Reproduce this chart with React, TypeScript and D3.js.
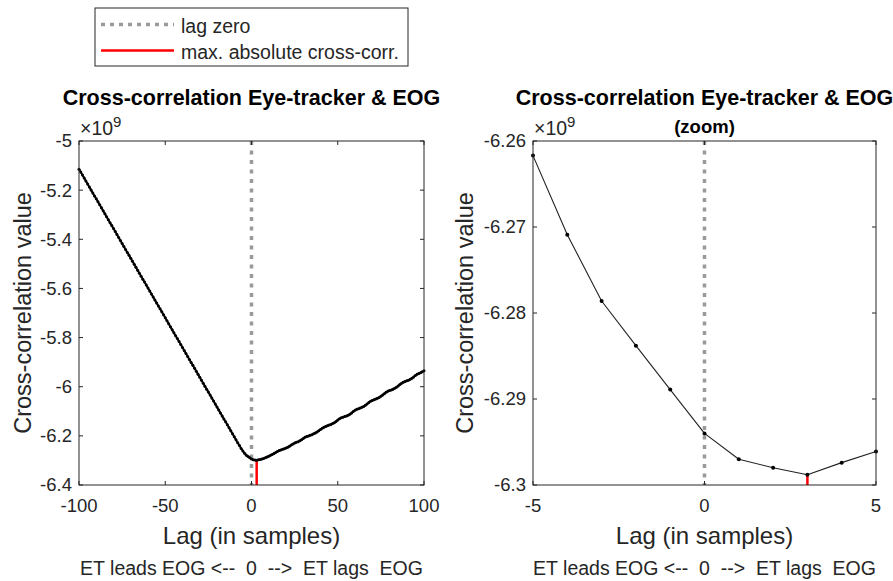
import React from "react";
import * as d3 from "d3";

// Cross-correlation between eye-tracker and EOG signals, in units of 10^9.
const LAGS: number[] = d3.range(-100, 101);
const XCORR: number[] = [
  // lag -100 .. -51
  -5.1145, -5.1266, -5.1387, -5.1508, -5.1629, -5.1750, -5.1871, -5.1992, -5.2113, -5.2234,
  -5.2355, -5.2476, -5.2597, -5.2718, -5.2839, -5.2960, -5.3081, -5.3202, -5.3323, -5.3444,
  -5.3565, -5.3686, -5.3807, -5.3928, -5.4049, -5.4170, -5.4291, -5.4412, -5.4533, -5.4654,
  -5.4775, -5.4896, -5.5017, -5.5138, -5.5259, -5.5380, -5.5501, -5.5622, -5.5743, -5.5864,
  -5.5985, -5.6106, -5.6227, -5.6348, -5.6469, -5.6590, -5.6711, -5.6832, -5.6953, -5.7074,
  // lag -50 .. -1
  -5.7195, -5.7316, -5.7437, -5.7558, -5.7679, -5.7800, -5.7921, -5.8042, -5.8163, -5.8284,
  -5.8405, -5.8526, -5.8647, -5.8768, -5.8889, -5.9010, -5.9131, -5.9252, -5.9373, -5.9494,
  -5.9615, -5.9736, -5.9857, -5.9978, -6.0099, -6.0220, -6.0341, -6.0462, -6.0583, -6.0704,
  -6.0825, -6.0946, -6.1067, -6.1188, -6.1309, -6.1430, -6.1551, -6.1672, -6.1793, -6.1914,
  -6.2036, -6.2158, -6.2279, -6.2397, -6.2512, -6.2617, -6.2709, -6.2786, -6.2838, -6.2889,
  // lag 0 .. 49
  -6.2940, -6.2970, -6.2980, -6.2988, -6.2974, -6.2961, -6.2943, -6.2919, -6.2891, -6.2860,
  -6.2827, -6.2792, -6.2757, -6.2722, -6.2677, -6.2633, -6.2598, -6.2573, -6.2548, -6.2524,
  -6.2499, -6.2464, -6.2419, -6.2374, -6.2335, -6.2295, -6.2260, -6.2235, -6.2200, -6.2162,
  -6.2105, -6.2057, -6.2025, -6.2002, -6.1979, -6.1952, -6.1919, -6.1882, -6.1839, -6.1791,
  -6.1739, -6.1691, -6.1649, -6.1616, -6.1588, -6.1561, -6.1533, -6.1501, -6.1463, -6.1415,
  // lag 50 .. 100
  -6.1358, -6.1305, -6.1268, -6.1240, -6.1217, -6.1195, -6.1162, -6.1120, -6.1069, -6.1008,
  -6.0957, -6.0921, -6.0896, -6.0870, -6.0839, -6.0803, -6.0757, -6.0706, -6.0645, -6.0594,
  -6.0558, -6.0528, -6.0502, -6.0471, -6.0435, -6.0389, -6.0338, -6.0282, -6.0226, -6.0185,
  -6.0155, -6.0129, -6.0103, -6.0067, -6.0021, -5.9970, -5.9914, -5.9858, -5.9817, -5.9787,
  -5.9761, -5.9735, -5.9699, -5.9653, -5.9602, -5.9546, -5.9495, -5.9459, -5.9429, -5.9393,
  -5.9352,
];
const EXPONENT = 9;

const FULL_X_TICKS = [-100, -50, 0, 50, 100];
const FULL_Y_TICKS = [-5, -5.2, -5.4, -5.6, -5.8, -6, -6.2, -6.4];
const FULL_Y_LABELS = ["-5", "-5.2", "-5.4", "-5.6", "-5.8", "-6", "-6.2", "-6.4"];
const ZOOM_X_TICKS = [-5, 0, 5];
const ZOOM_Y_TICKS = [-6.26, -6.27, -6.28, -6.29, -6.3];
const ZOOM_Y_LABELS = ["-6.26", "-6.27", "-6.28", "-6.29", "-6.3"];
const ZOOM_HALF_WIDTH = 5;

const TITLE = "Cross-correlation Eye-tracker & EOG";
const ZOOM_SUBTITLE = "(zoom)";
const X_LABEL = "Lag (in samples)";
const Y_LABEL = "Cross-correlation value";
const DIRECTION_NOTE = "ET leads EOG <--  0  -->  ET lags  EOG";
const LEGEND_ITEMS = ["lag zero", "max. absolute cross-corr."];

const FONT = "'Liberation Sans', Arial, Helvetica, sans-serif";
const AXIS_COLOR = "#262626";
const ZERO_COLOR = "#9a9a9a";
const PEAK_COLOR = "#ff0000";

type Pt = { lag: number; v: number };

const allPoints: Pt[] = LAGS.map((lag, i) => ({ lag, v: XCORR[i] }));
const peakIndex = d3.maxIndex(XCORR, (v) => Math.abs(v));
const peak = allPoints[peakIndex];
const zoomPoints = allPoints.filter((p) => Math.abs(p.lag) <= ZOOM_HALF_WIDTH);

interface PanelProps {
  left: number;
  right: number;
  top: number;
  bottom: number;
  xDomain: [number, number];
  yDomain: [number, number];
  xTicks: number[];
  yTicks: number[];
  yLabels: string[];
  points: Pt[];
  markerR: number;
  lineWidth: number;
  lineColor: string;
  subtitle?: string;
  yLabelX: number;
}

function Panel(p: PanelProps) {
  const x = d3.scaleLinear().domain(p.xDomain).range([p.left, p.right]);
  const y = d3.scaleLinear().domain(p.yDomain).range([p.bottom, p.top]);
  const line = d3
    .line<Pt>()
    .x((d) => x(d.lag))
    .y((d) => y(d.v));
  const cx = (p.left + p.right) / 2;
  const cy = (p.top + p.bottom) / 2;
  const tick = 4;

  return (
    <g>
      {/* zero-lag reference */}
      <line
        x1={x(0)}
        x2={x(0)}
        y1={p.top}
        y2={p.bottom}
        stroke={ZERO_COLOR}
        strokeWidth={3.5}
        strokeDasharray="4 5.5"
      />
      {/* peak marker */}
      <line
        x1={x(peak.lag)}
        x2={x(peak.lag)}
        y1={y(peak.v)}
        y2={p.bottom}
        stroke={PEAK_COLOR}
        strokeWidth={2.5}
      />
      <path
        d={line(p.points) || ""}
        fill="none"
        stroke={p.lineColor}
        strokeWidth={p.lineWidth}
        strokeLinejoin="round"
      />
      {p.points.map((d) => (
        <circle key={d.lag} cx={x(d.lag)} cy={y(d.v)} r={p.markerR} fill="#000" />
      ))}

      {/* axes box with inward ticks on all sides */}
      <rect
        x={p.left}
        y={p.top}
        width={p.right - p.left}
        height={p.bottom - p.top}
        fill="none"
        stroke={AXIS_COLOR}
        strokeWidth={1}
      />
      {p.xTicks.map((t) => (
        <g key={"x" + t}>
          <line x1={x(t)} x2={x(t)} y1={p.bottom} y2={p.bottom - tick} stroke={AXIS_COLOR} />
          <line x1={x(t)} x2={x(t)} y1={p.top} y2={p.top + tick} stroke={AXIS_COLOR} />
          <text
            x={x(t)}
            y={p.bottom + 27}
            textAnchor="middle"
            fontSize={18.5}
            fill={AXIS_COLOR}
          >
            {String(t)}
          </text>
        </g>
      ))}
      {p.yTicks.map((t, i) => (
        <g key={"y" + t}>
          <line x1={p.left} x2={p.left + tick} y1={y(t)} y2={y(t)} stroke={AXIS_COLOR} />
          <line x1={p.right} x2={p.right - tick} y1={y(t)} y2={y(t)} stroke={AXIS_COLOR} />
          <text
            x={p.left - 7}
            y={y(t)}
            dy="0.35em"
            textAnchor="end"
            fontSize={18.5}
            fill={AXIS_COLOR}
          >
            {p.yLabels[i]}
          </text>
        </g>
      ))}

      {/* exponent */}
      <text x={p.left + 1} y={p.top - 6} fontSize={19.5} fill={AXIS_COLOR}>
        {"\u00d710"}
        <tspan fontSize={15} dy={-8}>
          {String(EXPONENT)}
        </tspan>
      </text>

      <text x={cx} y={105} textAnchor="middle" fontSize={21.5} fontWeight="bold" fill="#000">
        {TITLE}
      </text>
      {p.subtitle && (
        <text x={cx} y={133} textAnchor="middle" fontSize={18.5} fontWeight="bold" fill="#000">
          {p.subtitle}
        </text>
      )}

      <text x={cx} y={544} textAnchor="middle" fontSize={24} fill={AXIS_COLOR}>
        {X_LABEL}
      </text>
      <text
        x={cx}
        y={575}
        textAnchor="middle"
        fontSize={19.5}
        fill={AXIS_COLOR}
        style={{ whiteSpace: "pre" }}
      >
        {DIRECTION_NOTE}
      </text>
      <text
        transform={`translate(${p.yLabelX},${cy}) rotate(-90)`}
        textAnchor="middle"
        fontSize={23.5}
        fill={AXIS_COLOR}
      >
        {Y_LABEL}
      </text>
    </g>
  );
}

function Legend() {
  const bx = 95;
  const by = 8;
  const bw = 313;
  const bh = 58;
  return (
    <g>
      <rect x={bx} y={by} width={bw} height={bh} fill="#fff" stroke={AXIS_COLOR} strokeWidth={1} />
      <line
        x1={101}
        x2={174}
        y1={24.5}
        y2={24.5}
        stroke={ZERO_COLOR}
        strokeWidth={3.5}
        strokeDasharray="4 5"
      />
      <text x={181} y={33} fontSize={19.5} fill={AXIS_COLOR}>
        {LEGEND_ITEMS[0]}
      </text>
      <line x1={101} x2={174} y1={50.5} y2={50.5} stroke={PEAK_COLOR} strokeWidth={2.5} />
      <text x={181} y={59} fontSize={19.5} fill={AXIS_COLOR}>
        {LEGEND_ITEMS[1]}
      </text>
    </g>
  );
}

export default function App() {
  return (
    <svg
      width={893}
      height={581}
      viewBox="0 0 893 581"
      style={{ position: "absolute", left: 0, top: 0, background: "#fff", fontFamily: FONT }}
    >
      <rect width={893} height={581} fill="#fff" />
      <Panel
        left={79}
        right={424}
        top={141}
        bottom={485}
        xDomain={[-100, 100]}
        yDomain={[-6.4, -5]}
        xTicks={FULL_X_TICKS}
        yTicks={FULL_Y_TICKS}
        yLabels={FULL_Y_LABELS}
        points={allPoints}
        markerR={1.5}
        lineWidth={2}
        lineColor="#000"
        yLabelX={31}
      />
      <Panel
        left={533}
        right={876}
        top={141}
        bottom={485}
        xDomain={[-ZOOM_HALF_WIDTH, ZOOM_HALF_WIDTH]}
        yDomain={[-6.3, -6.26]}
        xTicks={ZOOM_X_TICKS}
        yTicks={ZOOM_Y_TICKS}
        yLabels={ZOOM_Y_LABELS}
        points={zoomPoints}
        markerR={2}
        lineWidth={1.1}
        lineColor="#222"
        subtitle={ZOOM_SUBTITLE}
        yLabelX={473}
      />
      <Legend />
    </svg>
  );
}
